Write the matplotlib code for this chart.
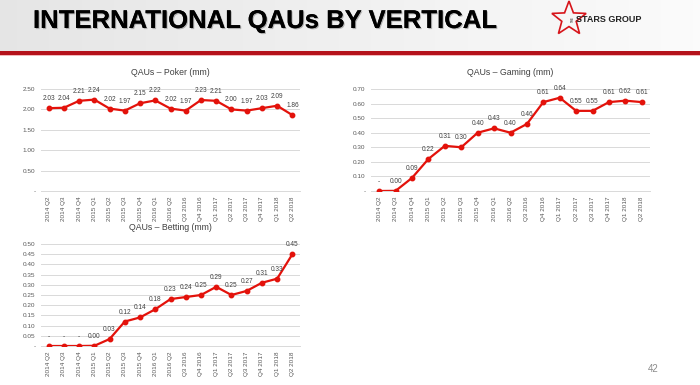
import numpy as np
import matplotlib
matplotlib.use("Agg")
import matplotlib.pyplot as plt
from matplotlib.patches import Rectangle, Polygon
from matplotlib import patheffects as pe

plt.rcParams['font.family'] = ['Liberation Sans', 'DejaVu Sans']

quarters = ["2014 Q2", "2014 Q3", "2014 Q4", "2015 Q1", "2015 Q2", "2015 Q3",
            "2015 Q4", "2016 Q1", "2016 Q2", "Q3 2016", "Q4 2016", "Q1 2017",
            "Q2 2017", "Q3 2017", "Q4 2017", "Q1 2018", "Q2 2018"]
poker = [2.03, 2.04, 2.21, 2.24, 2.02, 1.97, 2.15, 2.22, 2.02, 1.97, 2.23,
         2.21, 2.00, 1.97, 2.03, 2.09, 1.86]
gaming = [0.0, 0.001, 0.09, 0.22, 0.31, 0.30, 0.40, 0.43, 0.40, 0.46, 0.61,
          0.64, 0.55, 0.55, 0.61, 0.62, 0.61]
betting = [0.0, 0.0, 0.0, 0.001, 0.034, 0.12, 0.14, 0.18, 0.23, 0.24, 0.25,
           0.29, 0.25, 0.27, 0.31, 0.33, 0.45]
poker_ticks = [0, 0.5, 1.0, 1.5, 2.0, 2.5]
gaming_ticks = [0, 0.1, 0.2, 0.3, 0.4, 0.5, 0.6, 0.7]
betting_ticks = [0, 0.05, 0.1, 0.15, 0.2, 0.25, 0.3, 0.35, 0.4, 0.45, 0.5]

RED = "#E3120B"
W, H = 700, 385
fig = plt.figure(figsize=(7, 3.85), dpi=100)
fig.patch.set_facecolor("white")

# header gradient
hax = fig.add_axes([0, 1 - 51 / H, 1, 51 / H])
grad = np.linspace(0.90, 0.985, 256)[None, :]
hax.imshow(np.dstack([grad, grad, grad]), aspect="auto", extent=[0, 1, 0, 1])
hax.set_axis_off()
fig.add_artist(Rectangle((0, 1 - 55 / H), 1, 4 / H, transform=fig.transFigure,
                         facecolor="#B5121B", edgecolor="none"))
fig.add_artist(Rectangle((0, 1 - 56 / H), 1, 1 / H, transform=fig.transFigure,
                         facecolor="#F2B8BB", edgecolor="none"))
fig.text(33 / W, 1 - 21 / H, "INTERNATIONAL QAUs BY VERTICAL", fontsize=18.5,
         fontweight="bold", color="black", va="center", ha="left",
         path_effects=[pe.withSimplePatchShadow(offset=(0.8, -0.8), shadow_rgbFace="#888888", alpha=0.6),
                       pe.Normal()])

# logo
cx, cy, r = 569, 19, 18
ang = np.pi / 2 + np.arange(10) * np.pi / 5
rad = np.where(np.arange(10) % 2 == 0, r, r * 0.42)
pts = [((cx + rr * np.cos(a)) / W, 1 - (cy - rr * np.sin(a)) / H) for rr, a in zip(rad, ang)]
fig.add_artist(Polygon(pts, closed=True, transform=fig.transFigure,
                       facecolor="none", edgecolor="#D7141A", linewidth=1.2))
fig.text(576 / W, 1 - 19 / H, "STARS GROUP", fontsize=6.5, fontweight="bold",
         family=["Liberation Sans Narrow", "Liberation Sans"], color="#222222",
         va="center", ha="left")
fig.text(573 / W, 1 - 19 / H, "THE", fontsize=2.2, rotation=90, color="#222222",
         va="center", ha="center")

fig.text(653 / W, 1 - 369 / H, "42", fontsize=7, color="#8C8C8C", ha="center", va="center")


def fmt(v):
    return "-" if v == 0 else f"{v:.2f}"


def panel(rect, title, values, ticks):
    ax = fig.add_axes(rect)
    x = np.arange(len(quarters))
    ax.plot(x, values, color=RED, lw=1.6, marker="o", ms=3.2, zorder=3)
    for xi, v in zip(x, values):
        ax.annotate(fmt(v), (xi, v), xytext=(0, 4.3), textcoords="offset points",
                    ha="center", va="bottom", fontsize=4.7, color="#404040")
    ax.set_xlim(-0.5, len(quarters) - 0.5)
    ax.set_ylim(ticks[0], ticks[-1])
    ax.set_yticks(ticks)
    ax.set_yticklabels([fmt(t) for t in ticks], fontsize=4.6, color="#595959")
    ax.set_xticks(x)
    ax.set_xticklabels(quarters, rotation=90, fontsize=4.6, color="#595959")
    ax.tick_params(length=0, pad=4)
    ax.grid(axis="y", color="#D9D9D9", lw=0.7)
    ax.set_axisbelow(True)
    for s in ax.spines.values():
        s.set_visible(False)
    ax.spines["bottom"].set_visible(True)
    ax.spines["bottom"].set_color("#D9D9D9")
    ax.spines["bottom"].set_linewidth(0.7)
    ax.set_title(title, fontsize=6.3, color="#404040", pad=10)
    ax.set_facecolor("none")
    return ax


panel([41 / W, 1 - 191 / H, 259 / W, 102 / H], "QAUs \u2013 Poker (mm)", poker, poker_ticks)
panel([371 / W, 1 - 191 / H, 279 / W, 102 / H], "QAUs \u2013 Gaming (mm)", gaming, gaming_ticks)
panel([41 / W, 1 - 346 / H, 259 / W, 102 / H], "QAUs \u2013 Betting (mm)", betting, betting_ticks)

fig.savefig("out.png", dpi=100)
